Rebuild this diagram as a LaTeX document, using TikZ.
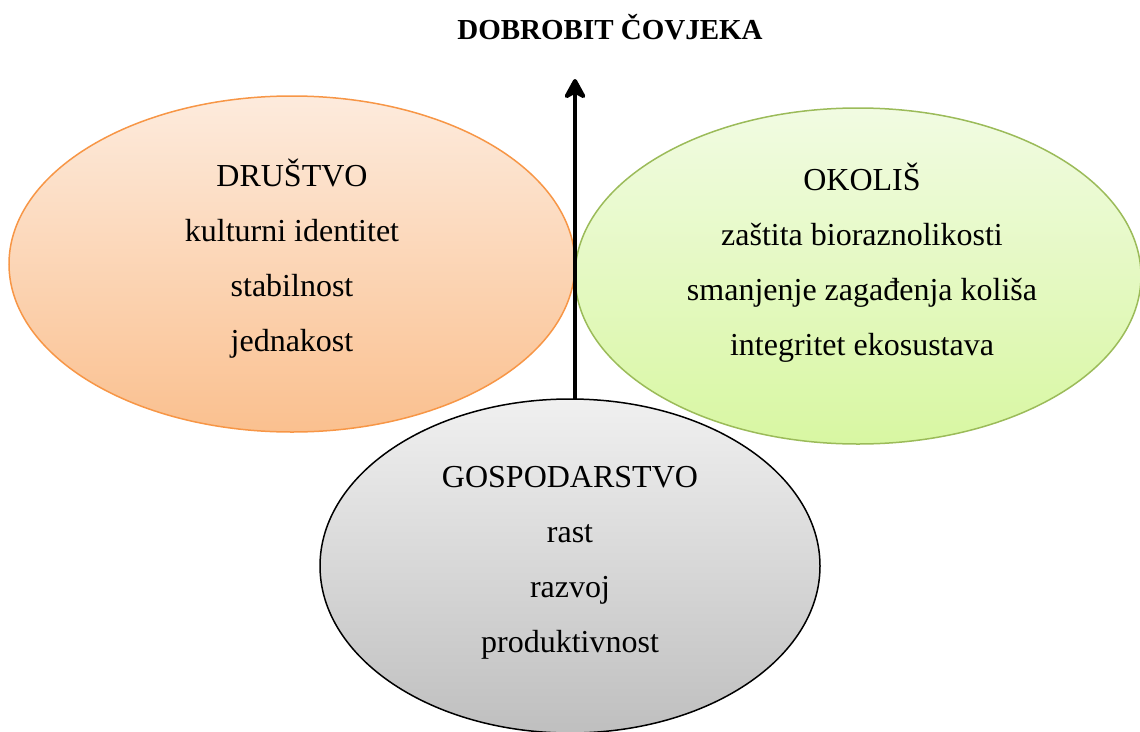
\documentclass[tikz,border=0pt]{standalone}
\usepackage{fontspec}
\setmainfont{Liberation Serif}
\usetikzlibrary{shapes.geometric,arrows.meta}
\definecolor{drustvoline}{HTML}{F79646}
\definecolor{drustvotop}{HTML}{FDEBDD}
\definecolor{drustvobot}{HTML}{FAC08F}
\definecolor{okolisline}{HTML}{9BBB59}
\definecolor{okolistop}{HTML}{F1FBE2}
\definecolor{okolisbot}{HTML}{D8F7A2}
\definecolor{gosptop}{HTML}{F0F0F0}
\definecolor{gospbot}{HTML}{BFBFBF}
\tikzset{
  pillar/.style={ellipse, draw, line width=1.5pt, inner sep=0pt,
    minimum width=566pt, minimum height=336pt},
  pillartext/.style={align=center, inner sep=0pt, font=\fontsize{32}{55}\selectfont},
}
\begin{document}
\begin{tikzpicture}[x=1pt,y=-1pt]
\useasboundingbox (0,0) rectangle (1140,731);

\node[font=\bfseries\fontsize{29}{32}\selectfont] (naslov) at (610,27) {DOBROBIT ČOVJEKA};

\node[pillar, draw=drustvoline, top color=drustvotop, bottom color=drustvobot] (drustvo) at (292,264) {};
\node[pillartext, yshift=5pt] (drustvotekst) at (drustvo.center)
  {DRUŠTVO\\kulturni identitet\\stabilnost\\jednakost};
\node[pillar, draw=okolisline, top color=okolistop, bottom color=okolisbot] (okolis) at (858,276) {};
\node[pillartext, xshift=4pt, yshift=13pt] (okolistekst) at (okolis.center)
  {OKOLIŠ\\zaštita bioraznolikosti\\smanjenje zagađenja koliša\\integritet ekosustava};

% strelica prema gore
\coordinate (vrh) at (575,79);
\coordinate (dno) at (575,400);
\draw[line width=4pt, -{Stealth[length=24pt, width=26pt, inset=7pt, round]}] (dno) -- (vrh);

\node[pillar, draw=black, top color=gosptop, bottom color=gospbot, minimum width=500pt, minimum height=334pt] (gospodarstvo) at (570,566) {};
\node[pillartext, yshift=3pt] (gospodarstvotekst) at (gospodarstvo.center)
  {GOSPODARSTVO\\rast\\razvoj\\produktivnost};
\end{tikzpicture}
\end{document}
